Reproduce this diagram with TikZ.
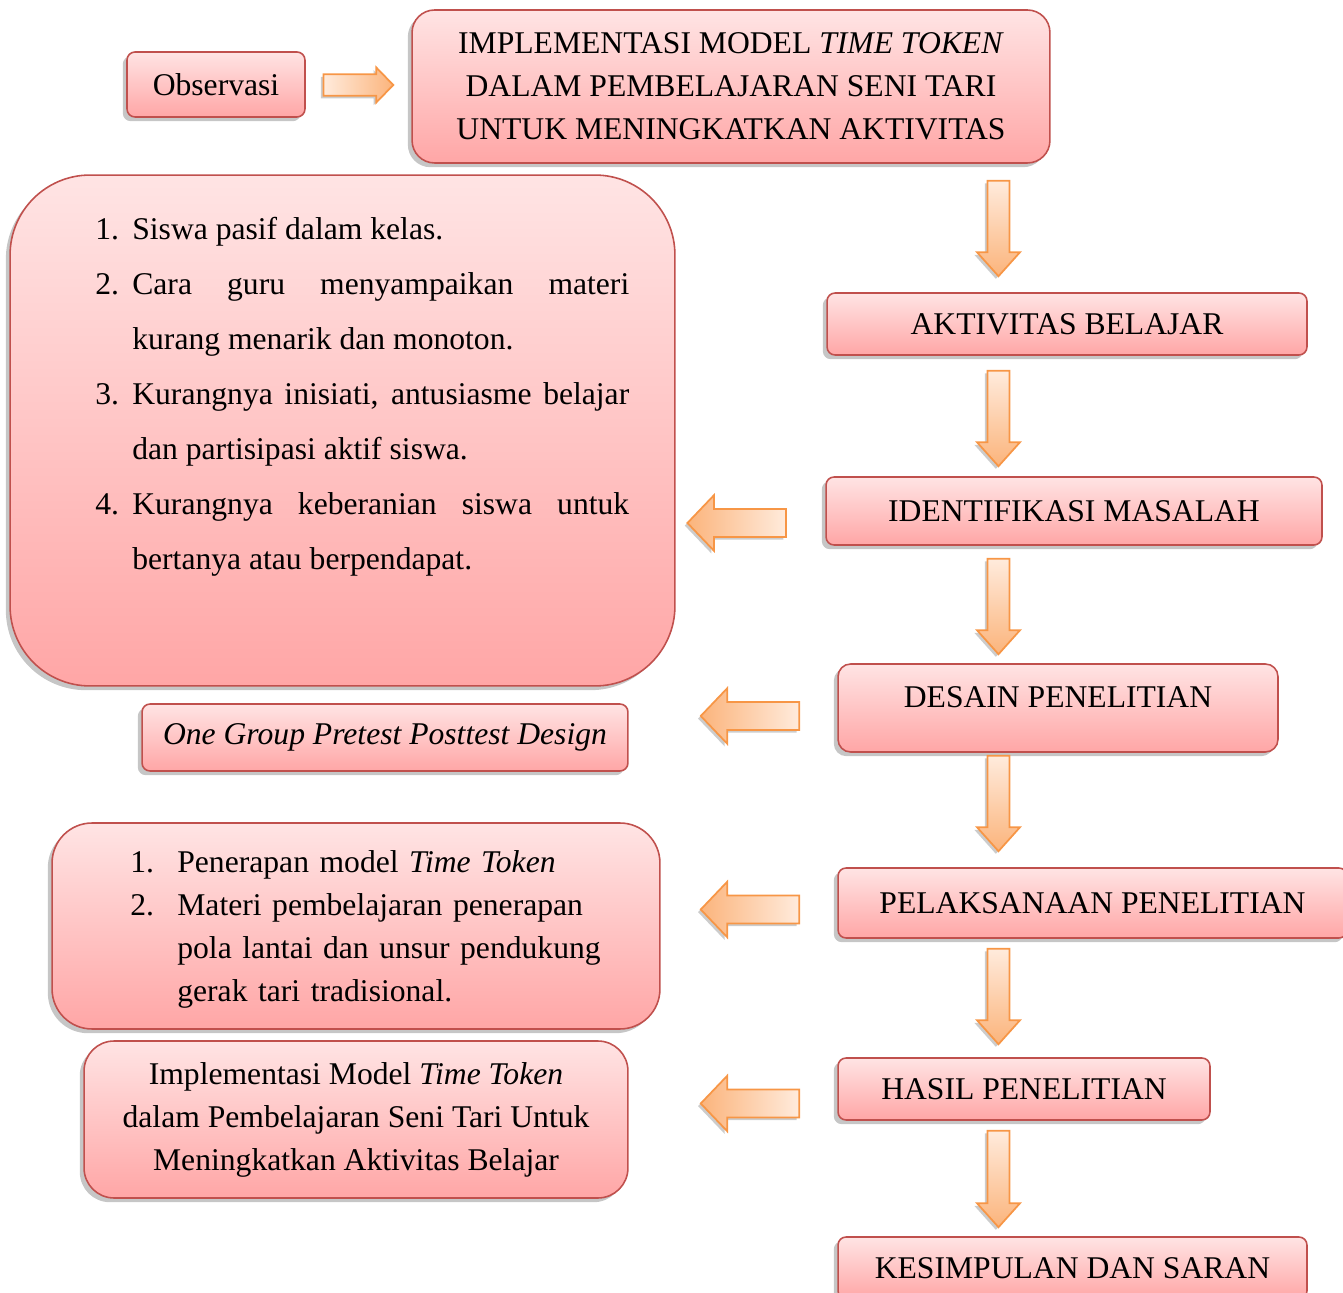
\documentclass[tikz,border=0pt]{standalone}
\usepackage{fontspec}
\setmainfont{Liberation Serif}
\usepackage{enumitem}
\usetikzlibrary{calc,shadows}

\definecolor{boxtop}{RGB}{255,228,228}
\definecolor{boxbot}{RGB}{255,166,166}
\definecolor{boxline}{RGB}{192,80,77}
\definecolor{arrline}{RGB}{247,150,70}
\definecolor{arrlight}{RGB}{255,235,220}
\definecolor{arrdark}{RGB}{251,180,124}

\begin{document}
\begin{tikzpicture}[
    x=0.02cm, y=-0.02cm,
    pinkbox/.style={
        rectangle, draw=boxline, line width=0.9pt,
        rounded corners=0.16cm,
        top color=boxtop, bottom color=boxbot,
        drop shadow={shadow xshift=-2.4pt, shadow yshift=-2.4pt, opacity=.45},
        align=center,
        inner sep=0pt,
        font=\fontsize{18}{24.5}\selectfont
    },
    listtext/.style={
        anchor=north west,
        inner sep=0pt,
        font=\fontsize{18}{24.5}\selectfont
    },
    arrsize/.code n args={3}{\def\shaftw{#1}\def\headw{#2}\def\headl{#3}},
    fatarrow/.style={
        draw=arrline, line width=1pt,
        drop shadow={shadow xshift=-1.5pt, shadow yshift=-1.5pt, opacity=.4},
        to path={
            ($(\tikztostart)!\shaftw!90:(\tikztotarget)$)
            -- ($($(\tikztotarget)!\headl!(\tikztostart)$)!\shaftw!-90:(\tikztostart)$)
            -- ($($(\tikztotarget)!\headl!(\tikztostart)$)!\headw!-90:(\tikztostart)$)
            -- (\tikztotarget)
            -- ($($(\tikztotarget)!\headl!(\tikztostart)$)!\headw!90:(\tikztostart)$)
            -- ($($(\tikztotarget)!\headl!(\tikztostart)$)!\shaftw!90:(\tikztostart)$)
            -- ($(\tikztostart)!\shaftw!-90:(\tikztotarget)$)
            -- cycle
        }
    },
    darr/.style={fatarrow, arrsize={0.22cm}{0.43cm}{0.48cm},
        top color=arrlight, bottom color=arrdark},
    larr/.style={fatarrow, arrsize={0.28cm}{0.555cm}{0.53cm},
        left color=arrdark, right color=arrlight},
    rarr/.style={fatarrow, arrsize={0.216cm}{0.35cm}{0.34cm},
        left color=arrlight, right color=arrdark},
]

\useasboundingbox (0,0) rectangle (1343,1293);

% right column
\node[pinkbox, minimum width=3.56cm, minimum height=1.3cm] (obs) at (216,84.5) {Observasi};
\node[pinkbox, rounded corners=0.45cm, minimum width=12.76cm, minimum height=3.06cm] (title) at (731,86.5)
    {IMPLEMENTASI MODEL \textit{TIME TOKEN}\\DALAM PEMBELAJARAN SENI TARI\\UNTUK MENINGKATKAN AKTIVITAS};
\node[pinkbox, minimum width=9.6cm, minimum height=1.24cm] (aktiv) at (1067,324) {AKTIVITAS BELAJAR};
\node[pinkbox, minimum width=9.92cm, minimum height=1.36cm] (ident) at (1074,511) {IDENTIFIKASI MASALAH};
\node[pinkbox, rounded corners=0.25cm, minimum width=8.8cm, text height=0.87cm, text depth=0.89cm] (desain) at (1058,708) {DESAIN PENELITIAN};
\node[pinkbox, minimum width=10.18cm, minimum height=1.4cm] (pelaks) at (1092.5,903) {PELAKSANAAN PENELITIAN};
\node[pinkbox, minimum width=7.44cm, minimum height=1.24cm] (hasil) at (1024,1089) {HASIL PENELITIAN};
\node[pinkbox, minimum width=9.38cm, minimum height=1.24cm] (kesimp) at (1072.5,1268) {KESIMPULAN DAN SARAN};

% left column
\node[pinkbox, rounded corners=1.6cm, minimum width=13.3cm, minimum height=10.22cm] (prob) at (342.5,430.5) {};
\node[listtext, text width=10.68cm, align=justify, font=\fontsize{18}{31.3}\selectfont] (probtext) at (95,183.8) {%
    \begin{enumerate}[label=\arabic*., leftmargin=0.74cm, labelwidth=0.48cm, labelsep=0.26cm,
        align=left, itemsep=0pt, parsep=0pt, topsep=0pt, partopsep=0pt]
    \item Siswa pasif dalam kelas.
    \item Cara guru menyampaikan materi\linebreak kurang menarik dan monoton.
    \item Kurangnya inisiati, antusiasme belajar\linebreak dan partisipasi aktif siswa.
    \item Kurangnya keberanian siswa untuk\linebreak bertanya atau berpendapat.
    \end{enumerate}};
\node[pinkbox, minimum width=9.72cm, minimum height=1.34cm] (design) at (385,737.5) {\textit{One Group Pretest Posttest Design}};
\node[pinkbox, rounded corners=0.8cm, minimum width=12.16cm, minimum height=4.12cm] (treat) at (356,926) {};
\node[listtext, text width=9.6cm, align=left] (treattext) at (130,828.8) {%
    \begin{enumerate}[label=\arabic*., leftmargin=0.94cm, labelwidth=0.48cm, labelsep=0.46cm,
        align=left, itemsep=0pt, parsep=0pt, topsep=0pt, partopsep=0pt]
    \item Penerapan model \textit{Time Token}
    \item Materi pembelajaran penerapan\\pola lantai dan unsur pendukung\\gerak tari tradisional.
    \end{enumerate}};
\node[pinkbox, rounded corners=0.6cm, minimum width=10.88cm, minimum height=3.14cm] (result) at (356,1119.5)
    {Implementasi Model \textit{Time Token}\\dalam Pembelajaran Seni Tari Untuk\\Meningkatkan Aktivitas Belajar};

% arrow ends
\coordinate (col) at (998.5,0);
\path ($(obs.east)+(17.7,0.5)$) coordinate (r1s)
      ($(title.west)+(-18,-1.5)$) coordinate (r1e);
\path ($(title.south -| col)+(0,17)$) coordinate (d1s)
      ($(aktiv.north -| col)+(0,-16)$) coordinate (d1e)
      ($(aktiv.south -| col)+(0,15)$) coordinate (d2s)
      ($(ident.north -| col)+(0,-10)$) coordinate (d2e)
      ($(ident.south -| col)+(0,13)$) coordinate (d3s)
      ($(desain.north -| col)+(0,-9)$) coordinate (d3e)
      ($(desain.south -| col)+(0,3)$) coordinate (d4s)
      ($(pelaks.north -| col)+(0,-16)$) coordinate (d4e)
      ($(pelaks.south -| col)+(0,10)$) coordinate (d5s)
      ($(hasil.north -| col)+(0,-13)$) coordinate (d5e)
      ($(hasil.south -| col)+(0,10)$) coordinate (d6s)
      ($(kesimp.north -| col)+(0,-9)$) coordinate (d6e);
\path ($(ident.west)+(-39.3,12)$) coordinate (l1s)
      ($(prob.east |- l1s)+(11.7,0)$) coordinate (l1e)
      ($(desain.west)+(-38,8)$) coordinate (l2s)
      ($(design.east |- l2s)+(72,0)$) coordinate (l2e)
      ($(pelaks.west)+(-38,6.5)$) coordinate (l3s)
      ($(treat.east |- l3s)+(40,0)$) coordinate (l3e)
      ($(hasil.west)+(-38,14.5)$) coordinate (l4s)
      ($(result.east |- l4s)+(72,0)$) coordinate (l4e);

% main flow
\draw[rarr] (r1s) to (r1e);
\foreach \i in {1,...,6}
    \draw[darr] (d\i s) to (d\i e);

% side arrows
\foreach \i in {1,...,4}
    \draw[larr] (l\i s) to (l\i e);

\end{tikzpicture}
\end{document}
